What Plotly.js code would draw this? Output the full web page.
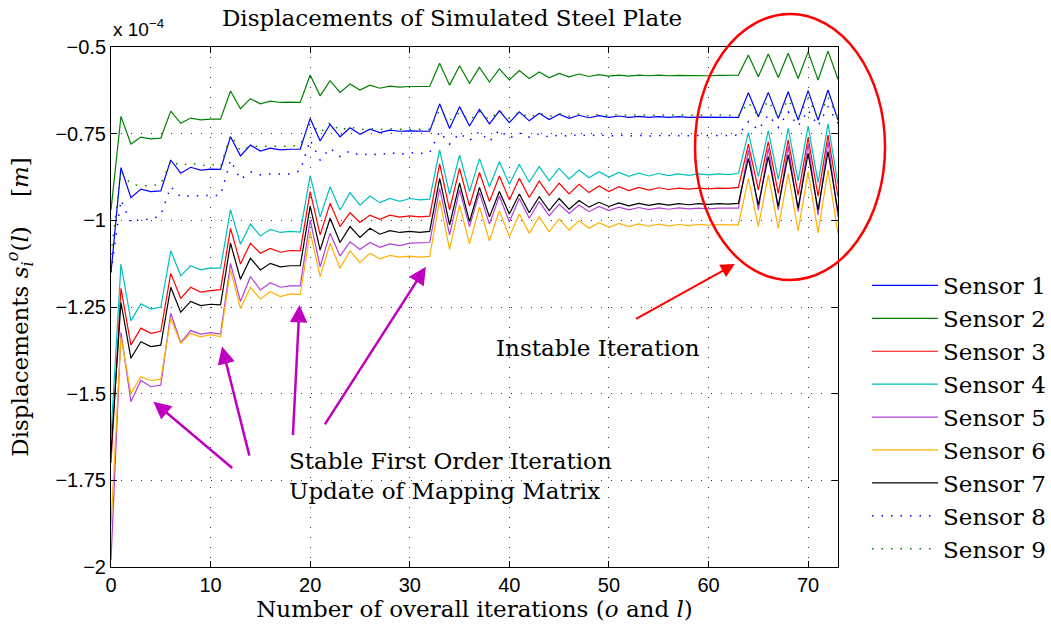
<!DOCTYPE html>
<html>
<head>
<meta charset="utf-8">
<script src="https://cdn.plot.ly/plotly-3.0.1.min.js"></script>
<style>html,body{margin:0;padding:0;background:#fff;}#chart{width:1051px;height:626px;}</style>
</head>
<body>
<div id="chart"></div>
<script>
// iteration index 0..73, values in units of 1e-4 m
const iterations = Array.from({length: 74}, (_, i) => i);

const sensorNames = ["Sensor 1","Sensor 2","Sensor 3","Sensor 4","Sensor 5","Sensor 6","Sensor 7","Sensor 8","Sensor 9"];

const sensor1 = [-1.15,-0.848,-0.935,-0.91,-0.917,-0.915,-0.826,-0.864,-0.847,-0.855,-0.852,-0.853,-0.759,-0.814,-0.783,-0.80,-0.792,-0.797,-0.795,-0.795,
 -0.706,-0.771,-0.723,-0.759,-0.733,-0.752,-0.737,-0.747,-0.74,-0.743,-0.742,-0.743,-0.743,
 -0.664,-0.735,-0.672,-0.728,-0.68,-0.722,-0.684,-0.718,-0.687,-0.713,-0.691,-0.709,-0.694,-0.706,-0.697,-0.704,-0.698,-0.703,
 -0.699,-0.703,-0.70,-0.703,-0.701,-0.703,-0.701,-0.703,-0.702,-0.703,-0.702,-0.703,-0.703,
 -0.632,-0.701,-0.631,-0.706,-0.629,-0.711,-0.626,-0.711,-0.624,-0.711];

const sensor2 = [-0.97,-0.70,-0.78,-0.76,-0.765,-0.763,-0.685,-0.72,-0.705,-0.71,-0.708,-0.708,-0.627,-0.678,-0.649,-0.664,-0.656,-0.66,-0.659,-0.66,
 -0.581,-0.641,-0.597,-0.631,-0.607,-0.624,-0.61,-0.619,-0.613,-0.616,-0.614,-0.615,-0.614,
 -0.547,-0.61,-0.554,-0.605,-0.559,-0.601,-0.563,-0.595,-0.568,-0.591,-0.572,-0.589,-0.576,-0.586,-0.578,-0.585,-0.58,-0.584,
 -0.581,-0.584,-0.581,-0.583,-0.581,-0.583,-0.582,-0.583,-0.582,-0.583,-0.582,-0.582,-0.581,
 -0.523,-0.586,-0.52,-0.588,-0.518,-0.591,-0.514,-0.595,-0.512,-0.593];

const sensor3 = [-1.70,-1.196,-1.36,-1.311,-1.326,-1.32,-1.153,-1.225,-1.193,-1.207,-1.203,-1.20,-1.023,-1.126,-1.066,-1.095,-1.081,-1.092,-1.087,-1.088,
 -0.917,-1.042,-0.951,-1.018,-0.978,-1.006,-0.985,-0.997,-0.985,-0.991,-0.987,-0.99,-0.988,
 -0.837,-0.97,-0.85,-0.959,-0.862,-0.946,-0.872,-0.941,-0.879,-0.934,-0.887,-0.928,-0.893,-0.924,-0.896,-0.92,-0.901,-0.917,
 -0.903,-0.914,-0.905,-0.913,-0.906,-0.911,-0.907,-0.91,-0.907,-0.909,-0.907,-0.908,-0.905,
 -0.78,-0.912,-0.773,-0.922,-0.768,-0.927,-0.761,-0.93,-0.754,-0.932];

const sensor4 = [-1.62,-1.126,-1.29,-1.241,-1.256,-1.25,-1.088,-1.16,-1.131,-1.143,-1.138,-1.138,-0.969,-1.069,-1.011,-1.045,-1.026,-1.035,-1.032,-1.034,
 -0.871,-0.99,-0.903,-0.97,-0.92,-0.956,-0.93,-0.949,-0.937,-0.945,-0.937,-0.941,-0.939,
 -0.797,-0.925,-0.812,-0.917,-0.822,-0.903,-0.831,-0.896,-0.838,-0.89,-0.845,-0.886,-0.85,-0.881,-0.855,-0.877,-0.86,-0.875,
 -0.862,-0.873,-0.864,-0.872,-0.865,-0.871,-0.866,-0.87,-0.866,-0.869,-0.866,-0.868,-0.865,
 -0.747,-0.874,-0.741,-0.882,-0.735,-0.886,-0.728,-0.891,-0.722,-0.895];

const sensor5 = [-1.98,-1.323,-1.523,-1.462,-1.48,-1.475,-1.268,-1.353,-1.318,-1.328,-1.324,-1.328,-1.124,-1.234,-1.162,-1.201,-1.18,-1.193,-1.189,-1.189,
 -0.999,-1.134,-1.037,-1.103,-1.062,-1.084,-1.064,-1.078,-1.068,-1.073,-1.066,-1.066,-1.064,
 -0.908,-1.042,-0.912,-1.018,-0.92,-1.011,-0.93,-1.004,-0.937,-0.994,-0.946,-0.987,-0.953,-0.98,-0.956,-0.975,-0.96,-0.972,
 -0.962,-0.97,-0.963,-0.969,-0.964,-0.968,-0.964,-0.967,-0.965,-0.967,-0.965,-0.966,-0.965,
 -0.797,-0.97,-0.792,-0.97,-0.786,-0.975,-0.779,-0.985,-0.772,-0.99];

const sensor6 = [-1.88,-1.336,-1.499,-1.451,-1.462,-1.459,-1.283,-1.355,-1.326,-1.336,-1.33,-1.336,-1.143,-1.254,-1.193,-1.227,-1.206,-1.22,-1.212,-1.214,
 -1.033,-1.163,-1.066,-1.138,-1.088,-1.122,-1.095,-1.111,-1.101,-1.106,-1.103,-1.106,-1.104,
 -0.941,-1.084,-0.956,-1.068,-0.961,-1.059,-0.972,-1.047,-0.982,-1.037,-0.99,-1.033,-0.996,-1.028,-1.001,-1.023,-1.007,-1.02,
 -1.009,-1.018,-1.01,-1.017,-1.011,-1.016,-1.012,-1.015,-1.012,-1.014,-1.012,-1.013,-1.013,
 -0.879,-1.018,-0.869,-1.023,-0.865,-1.03,-0.86,-1.036,-0.855,-1.039];

const sensor7 = [-1.67,-1.237,-1.398,-1.35,-1.364,-1.36,-1.193,-1.265,-1.234,-1.246,-1.242,-1.244,-1.066,-1.17,-1.109,-1.143,-1.124,-1.134,-1.131,-1.131,
 -0.959,-1.086,-0.994,-1.064,-1.018,-1.049,-1.023,-1.04,-1.03,-1.035,-1.032,-1.035,-1.032,
 -0.879,-1.013,-0.893,-1.004,-0.905,-0.99,-0.917,-0.982,-0.924,-0.978,-0.932,-0.972,-0.937,-0.968,-0.943,-0.962,-0.948,-0.96,
 -0.95,-0.958,-0.951,-0.957,-0.952,-0.956,-0.952,-0.955,-0.952,-0.954,-0.952,-0.953,-0.951,
 -0.821,-0.956,-0.816,-0.96,-0.811,-0.965,-0.807,-0.97,-0.802,-0.975];

const sensor8 = [-1.15,-0.941,-1.007,-0.996,-0.998,-0.985,-0.903,-0.932,-0.929,-0.929,-0.929,-0.928,-0.826,-0.882,-0.86,-0.869,-0.866,-0.867,-0.866,-0.857,
 -0.768,-0.826,-0.792,-0.816,-0.80,-0.813,-0.807,-0.812,-0.804,-0.81,-0.805,-0.807,-0.805,
 -0.744,-0.78,-0.749,-0.77,-0.744,-0.773,-0.739,-0.763,-0.748,-0.76,-0.75,-0.76,-0.754,-0.758,-0.752,-0.757,-0.753,-0.757,
 -0.754,-0.757,-0.755,-0.757,-0.755,-0.756,-0.755,-0.756,-0.755,-0.756,-0.755,-0.755,-0.754,
 -0.715,-0.739,-0.696,-0.732,-0.687,-0.728,-0.682,-0.728,-0.672,-0.72];

const sensor9 = [-1.10,-0.86,-0.896,-0.90,-0.90,-0.896,-0.828,-0.843,-0.834,-0.843,-0.838,-0.845,-0.754,-0.799,-0.786,-0.786,-0.788,-0.786,-0.786,-0.783,
 -0.72,-0.748,-0.718,-0.741,-0.73,-0.739,-0.735,-0.738,-0.736,-0.737,-0.736,-0.737,-0.737,
 -0.682,-0.712,-0.689,-0.712,-0.686,-0.71,-0.684,-0.706,-0.687,-0.704,-0.69,-0.701,-0.692,-0.70,-0.693,-0.699,-0.694,-0.698,
 -0.695,-0.697,-0.695,-0.697,-0.696,-0.697,-0.696,-0.697,-0.696,-0.697,-0.696,-0.697,-0.699,
 -0.66,-0.70,-0.655,-0.702,-0.652,-0.705,-0.648,-0.706,-0.645,-0.705];

const yTickVals = [-2, -1.75, -1.5, -1.25, -1, -0.75, -0.5];
const yTickText = ["\u22122", "\u22121.75", "\u22121.5", "\u22121.25", "\u22121", "\u22120.75", "\u22120.5"];
const xTickVals = [0, 10, 20, 30, 40, 50, 60, 70];

const seriesList = [sensor1, sensor2, sensor3, sensor4, sensor5, sensor6, sensor7, sensor8, sensor9];
const colors = ["#0000ff", "#008000", "#ff0000", "#00bfbf", "#b23fd8", "#ffb000", "#000000", "#0000ff", "#008000"];
const dashes = ["solid","solid","solid","solid","solid","solid","solid","1.5px,8px","1.5px,8px"];

const traces = seriesList.map((ys, k) => ({
  x: iterations, y: ys, type: "scatter", mode: "lines",
  name: sensorNames[k], legendgroup: "g" + k,
  line: {color: colors[k], width: k >= 7 ? 1.5 : 1.2, dash: dashes[k]},
  hoverinfo: "skip"
}));

const serif = "DejaVu Serif";
const sans = "Liberation Sans";
const mag = "#bf00bf";

function arrow(hx, hy, tx, ty, color, w) {
  return {x: hx, y: hy, ax: tx, ay: ty, xref: "x", yref: "y", axref: "x", ayref: "y",
    text: "", showarrow: true, arrowhead: 2, arrowsize: 1.4, arrowwidth: w, arrowcolor: color, standoff: 0};
}

const layout = {
  width: 1051, height: 626,
  margin: {l: 111, r: 213, t: 47, b: 59, autoexpand: false},
  paper_bgcolor: "#ffffff", plot_bgcolor: "#ffffff",
  showlegend: true,
  title: {text: "Displacements of Simulated Steel Plate", font: {family: serif, size: 23, color: "#000"},
    xref: "paper", x: 0.469, xanchor: "center", yref: "container", y: 0.971, yanchor: "middle"},
  xaxis: {range: [0, 73], tickvals: xTickVals, ticks: "inside", ticklen: 6, tickcolor: "#000",
    showline: true, linecolor: "#000", linewidth: 1, mirror: "ticks", zeroline: false,
    showgrid: true, gridcolor: "#333", gridwidth: 1, griddash: "1px,9px",
    tickfont: {family: sans, size: 20, color: "#000"},
    title: {text: "Number of overall iterations (<i>o</i> and <i>l</i>)", font: {family: serif, size: 23, color: "#000"}, standoff: 2}},
  yaxis: {range: [-2, -0.5], tickvals: yTickVals, ticktext: yTickText, ticks: "inside", ticklen: 6, tickcolor: "#000",
    showline: true, linecolor: "#000", linewidth: 1, mirror: "ticks", zeroline: false,
    showgrid: true, gridcolor: "#333", gridwidth: 1, griddash: "1px,9px",
    tickfont: {family: sans, size: 20, color: "#000"},
    title: {text: "Displacements <i>s</i><sub><i>i</i></sub><sup><i>o</i></sup>(<i>l</i>)\u00a0\u00a0\u00a0\u00a0[<i>m</i>]", font: {family: serif, size: 23, color: "#000"}, standoff: 20}},
  legend: {x: 1.0399, xanchor: "left", y: 0.5827, yanchor: "top", bgcolor: "rgba(0,0,0,0)",
    font: {family: serif, size: 23, color: "#000"}, itemwidth: 66, tracegroupgap: 0, traceorder: "normal"},
  shapes: [
    {type: "circle", xref: "paper", yref: "paper", x0: 0.8033, x1: 1.0647, y0: 0.5519, y1: 1.0635,
      line: {color: "#ff0000", width: 2.5}, fillcolor: "rgba(0,0,0,0)"}
  ],
  annotations: [
    {xref: "paper", yref: "paper", x: 0, y: 1.0365, xanchor: "left", yanchor: "middle", showarrow: false,
      text: "x 10<sup>\u22124</sup>", font: {family: sans, size: 19, color: "#000"}},
    arrow(4.26, -1.523, 12.32, -1.718, mag, 2.5),
    arrow(11.15, -1.364, 13.93, -1.683, mag, 2.5),
    arrow(18.93, -1.244, 18.26, -1.624, mag, 2.5),
    arrow(31.62, -1.134, 21.38, -1.593, mag, 2.5),
    arrow(62.64, -1.126, 52.57, -1.287, "#ff0000", 2),
    {xref: "x", yref: "y", x: 38.47, y: -1.367, xanchor: "left", yanchor: "middle", showarrow: false,
      text: "Instable Iteration", font: {family: serif, size: 23, color: "#000"}},
    {xref: "x", yref: "y", x: 17.72, y: -1.7365, xanchor: "left", yanchor: "middle", showarrow: false, align: "left",
      text: "Stable First Order Iteration<br>Update of Mapping Matrix", font: {family: serif, size: 23, color: "#000"}}
  ]
};

Plotly.newPlot("chart", traces, layout, {displayModeBar: false, staticPlot: true});
</script>
</body>
</html>
